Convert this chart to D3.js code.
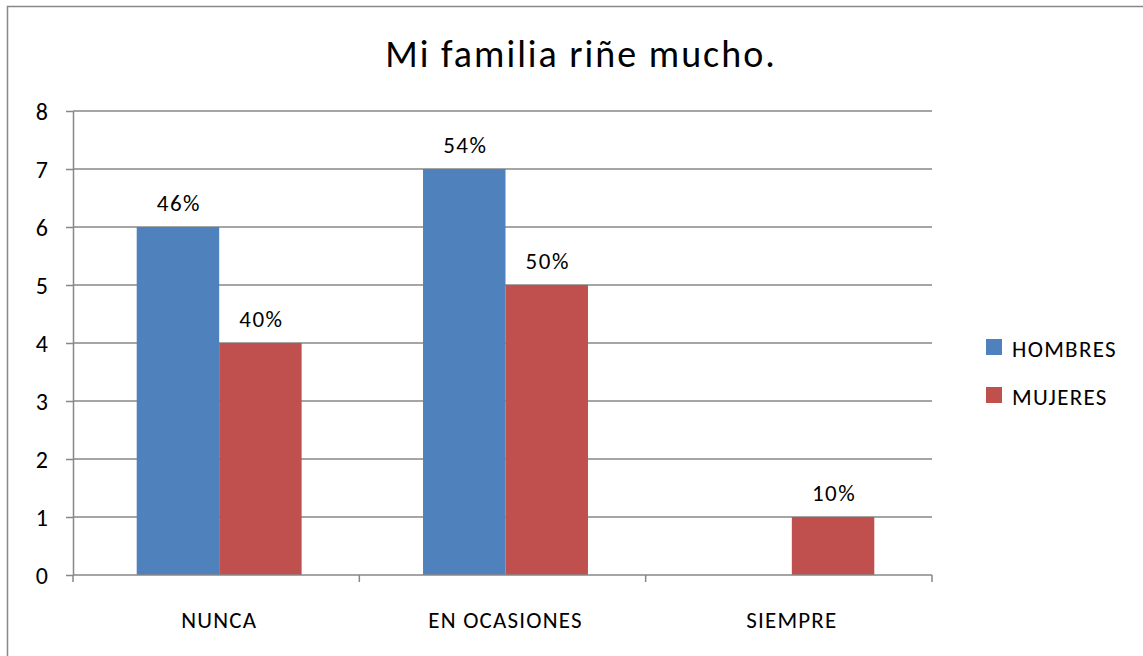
<!DOCTYPE html>
<html>
<head>
<meta charset="utf-8">
<script src="https://cdn.jsdelivr.net/npm/d3@7"></script>
<style>
  body { margin: 0; background: #fff; }
  svg text { font-family: Calibri, Carlito, Lato, sans-serif; fill: #000; }
</style>
</head>
<body>
<svg id="chart" width="1143" height="656"></svg>
<script>
// data
var categories = ["NUNCA", "EN OCASIONES", "SIEMPRE"];
var seriesNames = ["HOMBRES", "MUJERES"];
var hombres = [6, 7, 0];
var mujeres = [4, 5, 1];
var hombresLabels = ["46%", "54%", null];
var mujeresLabels = ["40%", "50%", "10%"];
var yTicks = [0, 1, 2, 3, 4, 5, 6, 7, 8];
var colors = ["#4F81BD", "#C0504D"];

var svg = d3.select("#chart");
var plotLeft = 73, plotRight = 932, plotTop = 111, plotBottom = 575;
var axisColor = "#878787";

// outer frame
svg.append("rect")
    .attr("x", 7.5).attr("y", 6.5)
    .attr("width", 1200).attr("height", 700)
    .attr("fill", "none").attr("stroke", "#888").attr("stroke-width", 1.5);

svg.append("text")
    .attr("x", 581).attr("y", 67)
    .attr("text-anchor", "middle")
    .style("font-size", "38px")
    .style("letter-spacing", "2px")
    .text("Mi familia riñe mucho.");

var y = d3.scaleLinear().domain([0, 8]).range([plotBottom, plotTop]);
// bars sit ~3px right of the category grid in the reference
var x0 = d3.scaleBand().domain(categories).range([plotLeft + 3, plotRight + 3])
    .paddingInner(0.424).paddingOuter(0.212);
var x1 = d3.scaleBand().domain(seriesNames).range([0, x0.bandwidth()]);

// gridlines
svg.append("g").selectAll("line")
    .data(yTicks.filter(function(d) { return d > 0; }))
    .enter().append("line")
    .attr("x1", plotLeft).attr("x2", plotRight)
    .attr("y1", function(d) { return y(d); })
    .attr("y2", function(d) { return y(d); })
    .attr("stroke", axisColor).attr("stroke-width", 1.5);

// bars
var flat = [];
categories.forEach(function(c, i) {
    flat.push({ cat: c, s: seriesNames[0], v: hombres[i], label: hombresLabels[i], color: colors[0] });
    flat.push({ cat: c, s: seriesNames[1], v: mujeres[i], label: mujeresLabels[i], color: colors[1] });
});

svg.append("g").selectAll("rect")
    .data(flat.filter(function(d) { return d.v > 0; }))
    .enter().append("rect")
    .attr("x", function(d) { return x0(d.cat) + x1(d.s); })
    .attr("width", x1.bandwidth())
    .attr("y", function(d) { return y(d.v); })
    .attr("height", function(d) { return y(0) - y(d.v); })
    .attr("fill", function(d) { return d.color; });

svg.append("g").selectAll("text")
    .data(flat.filter(function(d) { return d.label; }))
    .enter().append("text")
    .attr("x", function(d) { return x0(d.cat) + x1(d.s) + x1.bandwidth() / 2 + 1; })
    .attr("y", function(d) { return y(d.v) - 16; })
    .attr("text-anchor", "middle")
    .style("font-size", "23px")
    .style("letter-spacing", "1.5px")
    .text(function(d) { return d.label; });

// y axis
var yAxis = svg.append("g")
    .attr("transform", "translate(" + plotLeft + ",0)")
    .call(d3.axisLeft(y).tickValues(yTicks).tickSize(7).tickPadding(18).tickSizeOuter(0));
yAxis.select(".domain").attr("stroke", axisColor).attr("stroke-width", 1.5);
yAxis.selectAll(".tick line").attr("stroke", axisColor).attr("stroke-width", 1.5);
yAxis.selectAll(".tick text").style("font-size", "24px").attr("dy", "0.36em");

// x axis
var xAxis = svg.append("g")
    .attr("transform", "translate(0," + plotBottom + ")")
    .call(d3.axisBottom(x0).tickSize(0));
xAxis.select(".domain").attr("d", "M" + plotLeft + ",0H" + plotRight)
    .attr("stroke", axisColor).attr("stroke-width", 1.5);
xAxis.selectAll(".tick text")
    .attr("y", 53).attr("dy", 0)
    .style("font-size", "23px")
    .style("letter-spacing", "1.2px");

// category boundary ticks
var step = x0.step();
svg.append("g").selectAll("line")
    .data(d3.range(categories.length + 1))
    .enter().append("line")
    .attr("x1", function(i) { return plotLeft + i * step; })
    .attr("x2", function(i) { return plotLeft + i * step; })
    .attr("y1", plotBottom).attr("y2", plotBottom + 7)
    .attr("stroke", axisColor).attr("stroke-width", 1.5);

// legend
var legend = svg.append("g").selectAll("g")
    .data(seriesNames)
    .enter().append("g")
    .attr("transform", function(d, i) { return "translate(986," + (339 + i * 48) + ")"; });
legend.append("rect")
    .attr("width", 16).attr("height", 16)
    .attr("fill", function(d, i) { return colors[i]; });
legend.append("text")
    .attr("x", 26).attr("y", 17.5)
    .style("font-size", "23px")
    .style("letter-spacing", "1.3px")
    .text(function(d) { return d; });
</script>
</body>
</html>
